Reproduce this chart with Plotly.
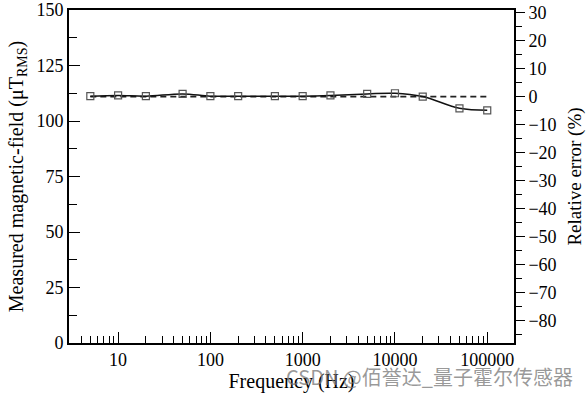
import plotly.graph_objects as go

freq_hz = [5, 10, 20, 50, 100, 200, 500, 1000, 2000, 5000, 10000, 20000, 50000, 100000]
field_ut = [111.2, 111.5, 111.2, 112.2, 111.2, 111.2, 111.2, 111.2, 111.5, 112.2, 112.5, 111.0, 105.7, 104.8]
reference_ut = [111.0] * len(freq_hz)

x_tickvals = [10, 100, 1000, 10000, 100000]
x_ticktext = ["10", "100", "1000", "10000", "100000"]
x_minor_vals = [k * 10 ** d for d in range(0, 6) for k in range(2, 10)]
y2_tickvals = [30, 20, 10, 0, -10, -20, -30, -40, -50, -60, -70, -80]

serif = "Liberation Serif"

fig = go.Figure()
fig.add_trace(go.Scatter(
    x=freq_hz, y=reference_ut, mode="lines",
    line=dict(color="#222", width=1.6, dash="6px,4px"),
    showlegend=False, hoverinfo="skip"))
fig.add_trace(go.Scatter(
    x=freq_hz, y=field_ut, mode="lines+markers",
    line=dict(color="#111", width=1.5, shape="spline"),
    marker=dict(symbol="square-open", size=7, color="#555", line=dict(width=1.2, color="#555")),
    showlegend=False))
# invisible trace to activate the right axis
fig.add_trace(go.Scatter(x=[freq_hz[0]], y=[0], yaxis="y2", mode="markers",
                         marker=dict(opacity=0), showlegend=False, hoverinfo="skip"))

fig.update_layout(
    width=588, height=394,
    margin=dict(l=69, r=74, t=10, b=51),
    paper_bgcolor="white", plot_bgcolor="white",
    font=dict(family=serif, size=18, color="black"),
    xaxis=dict(
        type="log", range=[0.468, 5.29], automargin=False,
        tickvals=x_tickvals, ticktext=x_ticktext,
        ticks="inside", ticklen=11, tickwidth=1.3, tickcolor="black",
        minor=dict(tickvals=x_minor_vals, ticks="inside", ticklen=7, tickwidth=1.1, tickcolor="black"),
        showline=True, linecolor="black", linewidth=1.6, mirror=True,
        showgrid=False, zeroline=False,
        tickfont=dict(family=serif, size=18),
        title=dict(text="Frequency (Hz)", font=dict(family=serif, size=20), standoff=2),
    ),
    yaxis=dict(
        range=[0, 150], dtick=25, automargin=False,
        ticks="inside", ticklen=11, tickwidth=1.3, tickcolor="black",
        minor=dict(dtick=12.5, ticks="inside", ticklen=8, tickwidth=1.1, tickcolor="black"),
        showline=True, linecolor="black", linewidth=1.6,
        showgrid=False, zeroline=False,
        tickfont=dict(family=serif, size=18),
        title=dict(text="Measured magnetic-field (μT<sub>RMS</sub>)", font=dict(family=serif, size=20), standoff=8),
    ),
    yaxis2=dict(
        overlaying="y", side="right", automargin=False,
        range=[-88, 31], tickvals=y2_tickvals,
        ticks="outside", ticklen=9, tickwidth=1.3, tickcolor="black",
        minor=dict(dtick=5, ticks="outside", ticklen=6, tickwidth=1.1, tickcolor="black"),
        showline=True, linecolor="black", linewidth=1.6,
        showgrid=False, zeroline=False,
        tickfont=dict(family=serif, size=18),
        title=dict(text="Relative error (%)", font=dict(family=serif, size=19), standoff=12),
    ),
)

fig.add_annotation(
    text="CSDN @佰誉达_量子霍尔传感器", xref="paper", yref="paper",
    x=1.138, y=-0.10, xanchor="right", yanchor="middle", showarrow=False,
    font=dict(family="Noto Sans CJK SC", size=20, color="rgba(120,120,120,0.75)"))

fig.write_html("out.html", config={"displayModeBar": False},
               post_script="document.body.style.margin='0';document.body.style.padding='0';")
